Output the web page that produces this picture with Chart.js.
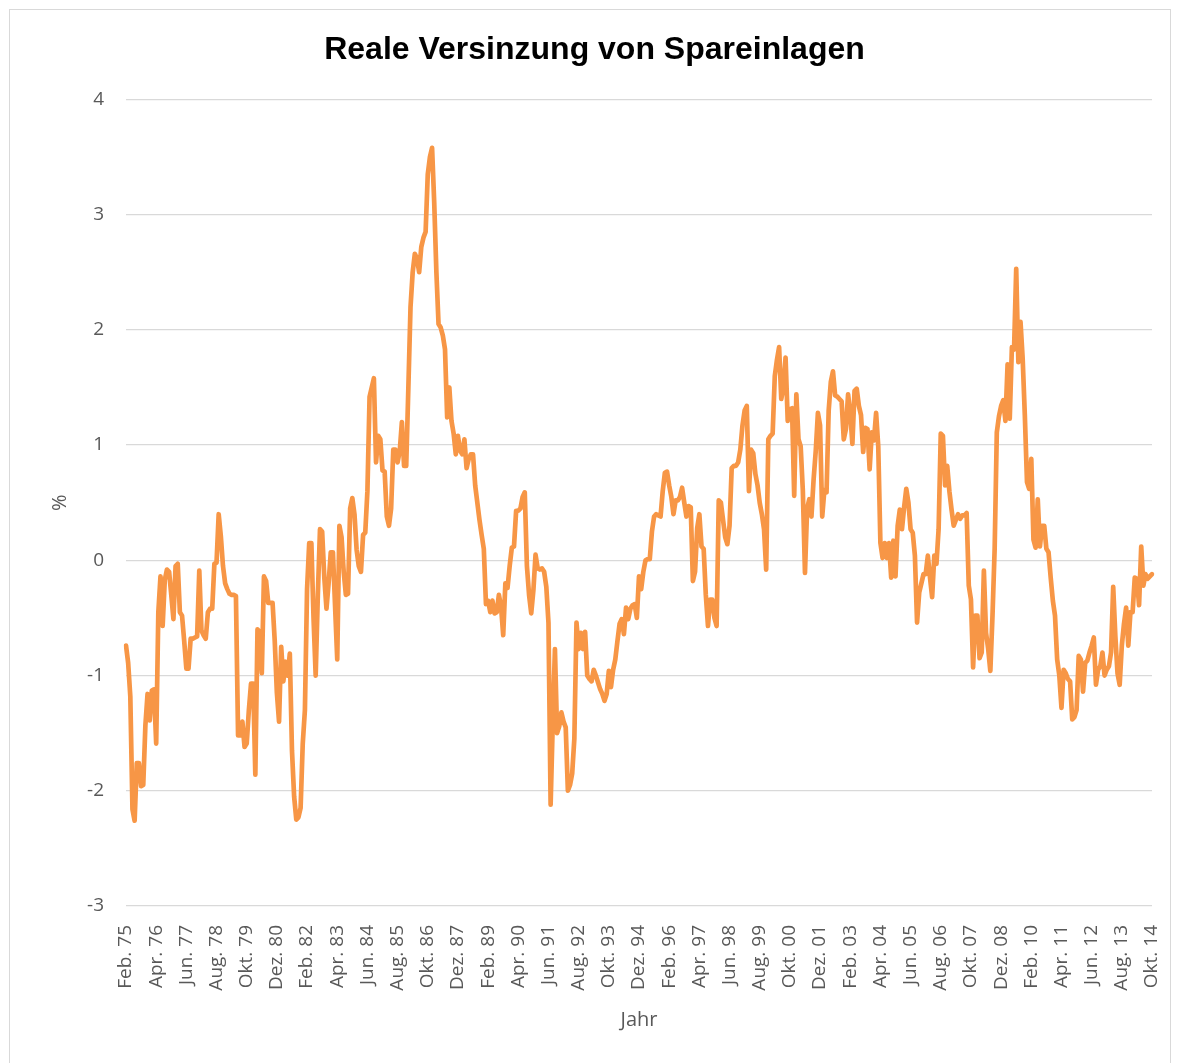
<!DOCTYPE html>
<html>
<head>
<meta charset="utf-8">
<script src="https://cdn.jsdelivr.net/npm/chart.js@4.4.0/dist/chart.umd.min.js"></script>
<style>
  html, body { margin: 0; padding: 0; background: #fff; overflow: hidden; }
  #frame { position: absolute; left: 9px; top: 9px; width: 1160px; height: 1080px; border: 1px solid #d9d9d9; }
  #chart { position: absolute; left: 0; top: 0; }
</style>
</head>
<body>
<div id="frame"></div>
<canvas id="chart" width="1179" height="1063"></canvas>
<script>
// Monatswerte Feb. 75 bis Okt. 14, reale Verzinsung in %
const monthNames = ['Jan.', 'Feb.', 'März', 'Apr.', 'Mai', 'Jun.', 'Jul.', 'Aug.', 'Sep.', 'Okt.', 'Nov.', 'Dez.'];
const startYear = 75;
const startMonth = 1; // Feb.

const realRate = [
  -0.74, -0.89, -1.18, -2.16, -2.26, -1.76, -1.76, -1.96, -1.95, -1.43, -1.16, -1.39,
  -1.13, -1.12, -1.59, -0.45, -0.14, -0.57, -0.17, -0.08, -0.10, -0.30, -0.51, -0.05,
  -0.03, -0.45, -0.48, -0.70, -0.94, -0.94, -0.68, -0.68, -0.67, -0.66, -0.09, -0.61,
  -0.65, -0.68, -0.45, -0.42, -0.42, -0.03, -0.02, 0.40, 0.21, -0.05, -0.20, -0.25,
  -0.29, -0.30, -0.30, -0.31, -1.52, -1.52, -1.40, -1.62, -1.59, -1.30, -1.07, -1.07,
  -1.86, -0.60, -0.62, -0.98, -0.14, -0.18, -0.37, -0.37, -0.37, -0.70, -1.15, -1.40,
  -0.75, -1.05, -0.88, -1.00, -0.81, -1.65, -2.05, -2.25, -2.23, -2.15, -1.59, -1.30,
  -0.25, 0.15, 0.15, -0.50, -1.00, -0.30, 0.27, 0.25, -0.15, -0.42, -0.20, 0.07,
  0.07, -0.40, -0.86, 0.30, 0.20, -0.10, -0.30, -0.29, 0.45, 0.54, 0.40, 0.09,
  -0.05, -0.10, 0.22, 0.24, 0.60, 1.42, 1.50, 1.58, 0.85, 1.08, 1.05, 0.78,
  0.77, 0.38, 0.30, 0.45, 0.96, 0.96, 0.85, 0.95, 1.20, 0.82, 0.82, 1.50,
  2.20, 2.50, 2.66, 2.62, 2.50, 2.72, 2.80, 2.85, 3.35, 3.50, 3.58, 3.10,
  2.50, 2.05, 2.02, 1.95, 1.83, 1.24, 1.50, 1.21, 1.10, 0.92, 1.08, 0.95,
  0.92, 1.05, 0.80, 0.88, 0.92, 0.92, 0.65, 0.50, 0.35, 0.22, 0.10, -0.38,
  -0.35, -0.45, -0.35, -0.46, -0.45, -0.30, -0.40, -0.65, -0.20, -0.24, -0.05, 0.11,
  0.12, 0.43, 0.43, 0.45, 0.55, 0.59, -0.05, -0.30, -0.46, -0.26, 0.05, -0.07,
  -0.08, -0.07, -0.10, -0.23, -0.54, -2.12, -1.40, -0.77, -1.50, -1.44, -1.32, -1.40,
  -1.45, -2.00, -1.95, -1.85, -1.55, -0.54, -0.77, -0.63, -0.77, -0.62, -1.00, -1.03,
  -1.05, -0.95, -1.00, -1.06, -1.12, -1.16, -1.22, -1.16, -0.96, -1.10, -0.95, -0.86,
  -0.70, -0.55, -0.51, -0.64, -0.41, -0.51, -0.42, -0.39, -0.38, -0.50, -0.14, -0.25,
  -0.10, 0.00, 0.01, 0.01, 0.25, 0.38, 0.40, 0.39, 0.38, 0.60, 0.76, 0.77,
  0.65, 0.55, 0.40, 0.52, 0.52, 0.55, 0.63, 0.50, 0.38, 0.47, 0.46, -0.18,
  -0.10, 0.28, 0.40, 0.12, 0.10, -0.30, -0.57, -0.34, -0.34, -0.50, -0.57, 0.52,
  0.50, 0.35, 0.20, 0.14, 0.30, 0.80, 0.82, 0.82, 0.85, 0.96, 1.17, 1.30,
  1.34, 0.60, 0.96, 0.93, 0.75, 0.65, 0.50, 0.40, 0.27, -0.08, 1.05, 1.08,
  1.10, 1.60, 1.74, 1.85, 1.40, 1.50, 1.76, 1.21, 1.31, 1.32, 0.56, 1.44,
  1.05, 0.99, 0.61, -0.11, 0.45, 0.53, 0.38, 0.70, 0.95, 1.28, 1.17, 0.38,
  0.61, 0.59, 1.30, 1.55, 1.64, 1.43, 1.42, 1.40, 1.38, 1.05, 1.14, 1.44,
  1.28, 1.01, 1.47, 1.49, 1.34, 1.26, 0.94, 1.15, 1.14, 0.79, 1.11, 1.04,
  1.28, 0.99, 0.15, 0.02, 0.15, 0.02, 0.15, -0.15, 0.17, -0.14, 0.30, 0.44,
  0.27, 0.46, 0.62, 0.50, 0.27, 0.24, 0.04, -0.54, -0.28, -0.20, -0.12, -0.12,
  0.04, -0.15, -0.32, 0.04, -0.03, 0.27, 1.10, 1.08, 0.65, 0.82, 0.60, 0.44,
  0.30, 0.35, 0.40, 0.36, 0.39, 0.39, 0.41, -0.22, -0.34, -0.93, -0.48, -0.48,
  -0.85, -0.80, -0.09, -0.63, -0.77, -0.96, -0.48, 0.10, 1.11, 1.25, 1.34, 1.39,
  1.21, 1.70, 1.23, 1.85, 1.83, 2.53, 1.72, 2.07, 1.75, 1.26, 0.68, 0.62,
  0.88, 0.18, 0.11, 0.53, 0.12, 0.30, 0.30, 0.10, 0.07, -0.15, -0.35, -0.48,
  -0.86, -1.00, -1.28, -0.95, -0.98, -1.03, -1.05, -1.38, -1.36, -1.30, -0.83, -0.86,
  -1.14, -0.89, -0.87, -0.80, -0.74, -0.67, -1.08, -0.95, -0.92, -0.80, -1.00, -0.95,
  -0.92, -0.80, -0.23, -0.66, -0.98, -1.08, -0.74, -0.55, -0.41, -0.74, -0.45, -0.45,
  -0.15, -0.16, -0.39, 0.12, -0.22, -0.12, -0.16, -0.14, -0.12
];

// jede 14. Monatsbeschriftung wird gezeigt
const labelStep = 14;

const yMin = -3;
const yMax = 4;

let labels = [];
for (let i = 0; i < realRate.length; i++) {
  let m = startMonth + i;
  let yr = (startYear + Math.floor(m / 12)) % 100;
  labels.push(monthNames[m % 12] + ' ' + String(yr).padStart(2, '0'));
}

const tickFont = { family: 'Open Sans', size: 19 };
const grey = '#595959';

new Chart(document.getElementById('chart'), {
  type: 'line',
  data: {
    labels: labels,
    datasets: [{
      label: 'Reale Versinzung',
      data: realRate,
      borderColor: '#f79646',
      borderWidth: 4.7,
      borderJoinStyle: 'round',
      borderCapStyle: 'round',
      pointRadius: 0,
      tension: 0,
      fill: false
    }]
  },
  options: {
    responsive: false,
    animation: false,
    layout: {
      padding: { left: 16, right: 6, top: 0, bottom: 31 }
    },
    plugins: {
      legend: { display: false },
      tooltip: { enabled: false },
      title: {
        display: true,
        text: 'Reale Versinzung von Spareinlagen',
        color: '#000',
        font: { family: 'Liberation Sans', size: 32, weight: 'bold' },
        padding: { top: 31, bottom: 30 }
      }
    },
    scales: {
      x: {
        grid: { display: false },
        border: { display: false },
        ticks: {
          autoSkip: false,
          minRotation: 90,
          maxRotation: 90,
          padding: 11,
          color: grey,
          font: tickFont,
          callback: function(val, i) {
            return i % labelStep === 0 ? labels[i] : null;
          }
        },
        title: {
          display: true,
          text: 'Jahr',
          color: grey,
          font: { family: 'Open Sans', size: 20 },
          padding: 0
        },
        afterFit: function(scale) {
          scale.height = 126;
          scale.paddingRight = 27;
          scale.paddingLeft = 0;
        }
      },
      y: {
        min: yMin,
        max: yMax,
        grid: { color: '#d9d9d9', lineWidth: 1.3, drawTicks: false },
        border: { display: false },
        ticks: {
          stepSize: 1,
          padding: 22,
          color: grey,
          font: tickFont
        },
        title: {
          display: true,
          text: '%',
          color: grey,
          font: { family: 'Open Sans', size: 20 },
          padding: { top: 32, bottom: 0 }
        },
        afterFit: function(scale) {
          scale.width = 110;
        }
      }
    }
  }
});
</script>
</body>
</html>
